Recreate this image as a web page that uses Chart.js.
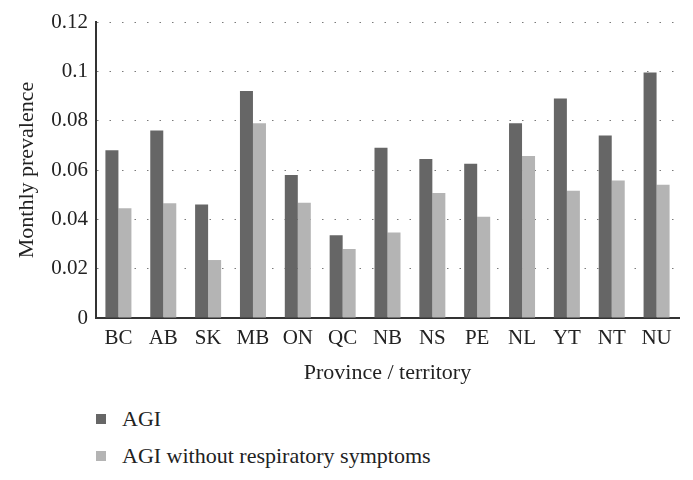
<!DOCTYPE html>
<html>
<head>
<meta charset="utf-8">
<script src="https://cdn.jsdelivr.net/npm/chart.js@4.4.0/dist/chart.umd.min.js"></script>
<style>
  body { margin: 0; background: #fff; }
  #wrap { position: relative; width: 693px; height: 480px; }
  #c { position: absolute; left: 0; top: 0; }
  #legend { position: absolute; left: 96px; top: 400px; font-family: "Liberation Serif", serif; font-size: 22px; color: #222; }
  .item { display: flex; align-items: center; height: 37px; }
  .sw { width: 10px; height: 10px; margin-right: 16px; }
</style>
</head>
<body>
<div id="wrap">
  <canvas id="c" width="693" height="395"></canvas>
  <div id="legend"></div>
</div>
<script>
// --- datos ---
const provincias = ['BC', 'AB', 'SK', 'MB', 'ON', 'QC', 'NB', 'NS', 'PE', 'NL', 'YT', 'NT', 'NU'];
const agi = [0.068, 0.076, 0.046, 0.092, 0.058, 0.0335, 0.069, 0.0645, 0.0625, 0.079, 0.089, 0.074, 0.0995];
const agiSinResp = [0.0445, 0.0465, 0.0235, 0.079, 0.0467, 0.028, 0.0347, 0.0507, 0.041, 0.0657, 0.0516, 0.0557, 0.054];
const yTicks = [0, 0.02, 0.04, 0.06, 0.08, 0.1, 0.12];

const fuente = 'Liberation Serif';

const chart = new Chart(document.getElementById('c'), {
    type: 'bar',
    data: {
        labels: provincias,
        datasets: [{
            label: 'AGI',
            data: agi,
            backgroundColor: '#666666'
        }, {
            label: 'AGI without respiratory symptoms',
            data: agiSinResp,
            backgroundColor: '#b4b4b4'
        }]
    },
    options: {
        responsive: false,
        animation: false,
        categoryPercentage: 0.58,
        barPercentage: 1,
        layout: { padding: { left: 10, top: 22, right: 14, bottom: 5 } },
        plugins: { legend: { display: false }, tooltip: { enabled: false } },
        scales: {
            x: {
                grid: { display: false, drawTicks: false },
                border: { color: '#333', width: 2 },
                ticks: { color: '#222', padding: 8, font: { family: fuente, size: 21 } },
                title: { display: true, text: 'Province / territory', color: '#222', font: { family: fuente, size: 22 } },
                afterFit: (s) => { s.height = 72; }
            },
            y: {
                min: 0,
                max: 0.12,
                afterBuildTicks: (s) => { s.ticks = yTicks.map(v => ({ value: v })); },
                grid: { color: '#7a7a7a', drawTicks: false, lineWidth: 1 },
                border: { color: '#333', width: 2, dash: [1.5, 11] },
                ticks: {
                    color: '#222', padding: 8, font: { family: fuente, size: 21 },
                    callback: (v) => String(parseFloat(Number(v).toFixed(2)))
                },
                title: { display: true, text: 'Monthly prevalence', color: '#222', font: { family: fuente, size: 22 } },
                afterFit: (s) => { s.width = 86; }
            }
        }
    }
});

// leyenda vertical en HTML
const leyenda = document.getElementById('legend');
chart.data.datasets.forEach(ds => {
    const fila = document.createElement('div');
    fila.className = 'item';
    const sw = document.createElement('span');
    sw.className = 'sw';
    sw.style.background = ds.backgroundColor;
    const txt = document.createElement('span');
    txt.textContent = ds.label;
    fila.appendChild(sw);
    fila.appendChild(txt);
    leyenda.appendChild(fila);
});
</script>
</body>
</html>
